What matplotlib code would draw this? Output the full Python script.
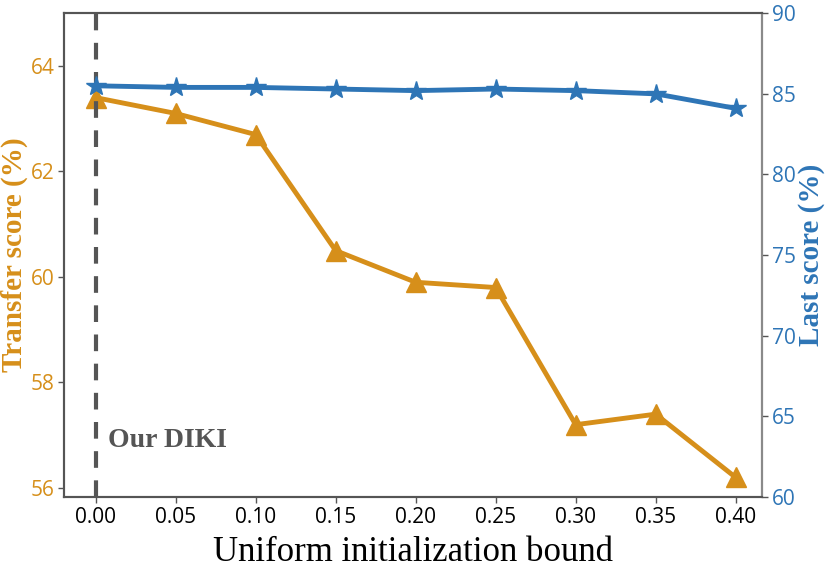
import numpy as np
import matplotlib.pyplot as plt

# data
bounds = [0.00, 0.05, 0.10, 0.15, 0.20, 0.25, 0.30, 0.35, 0.40]
transfer = [63.4, 63.1, 62.7, 60.5, 59.9, 59.8, 57.2, 57.4, 56.2]
last = [85.5, 85.4, 85.4, 85.3, 85.2, 85.3, 85.2, 85.0, 84.1]
xticks = bounds
left_ticks = [56, 58, 60, 62, 64]
right_ticks = [60, 65, 70, 75, 80, 85, 90]

ORANGE = "#d68f1a"
BLUE = "#2e75b6"
GRAY = "#555555"
SERIF = "Liberation Serif"
SANS = "Open Sans"

fig, ax = plt.subplots(figsize=(8.3, 5.75), dpi=100)
fig.subplots_adjust(left=0.0771, right=0.918, top=0.977, bottom=0.1357)
ax2 = ax.twinx()

ax.plot(bounds, transfer, "-^", color=ORANGE, lw=3.5, ms=14)
ax2.plot(bounds, last, "-*", color=BLUE, lw=3.5, ms=15)
ax.axvline(0.0, color=GRAY, ls="--", lw=3, dashes=(4, 3))
ax.text(0.0075, 56.78, "Our DIKI", family=SERIF, fontweight="bold",
        fontsize=20, color=GRAY)

ax.set_xlim(-0.0198, 0.4164)
ax.set_ylim(55.83, 65.0)
ax2.set_ylim(60, 90)
ax.set_xticks(xticks)
ax.set_xticklabels(["%.2f" % b for b in xticks], family=SANS, fontsize=15)
ax.set_yticks(left_ticks)
ax.set_yticklabels([str(t) for t in left_ticks], family=SANS, fontsize=15)
ax2.set_yticks(right_ticks)
ax2.set_yticklabels([str(t) for t in right_ticks], family=SANS, fontsize=15)

ax.set_xlabel("Uniform initialization bound", family=SERIF, fontsize=25,
              labelpad=6)
ax.set_ylabel("Transfer score (%)", family=SERIF, fontweight="bold",
              fontsize=21, color=ORANGE, labelpad=2)
ax2.set_ylabel("Last score (%)", family=SERIF, fontweight="bold",
               fontsize=21, color=BLUE, labelpad=2)

for a in (ax, ax2):
    for s in a.spines.values():
        s.set_color(GRAY)
        s.set_linewidth(1.5)
    a.tick_params(colors=GRAY, width=1, length=4, pad=3)
ax2.spines["right"].set_color("#8a8a8a")
ax.tick_params(axis="x", labelcolor="black")
ax.tick_params(axis="y", labelcolor=ORANGE)
ax2.tick_params(axis="y", labelcolor=BLUE)

fig.savefig("out.png", dpi=100)
